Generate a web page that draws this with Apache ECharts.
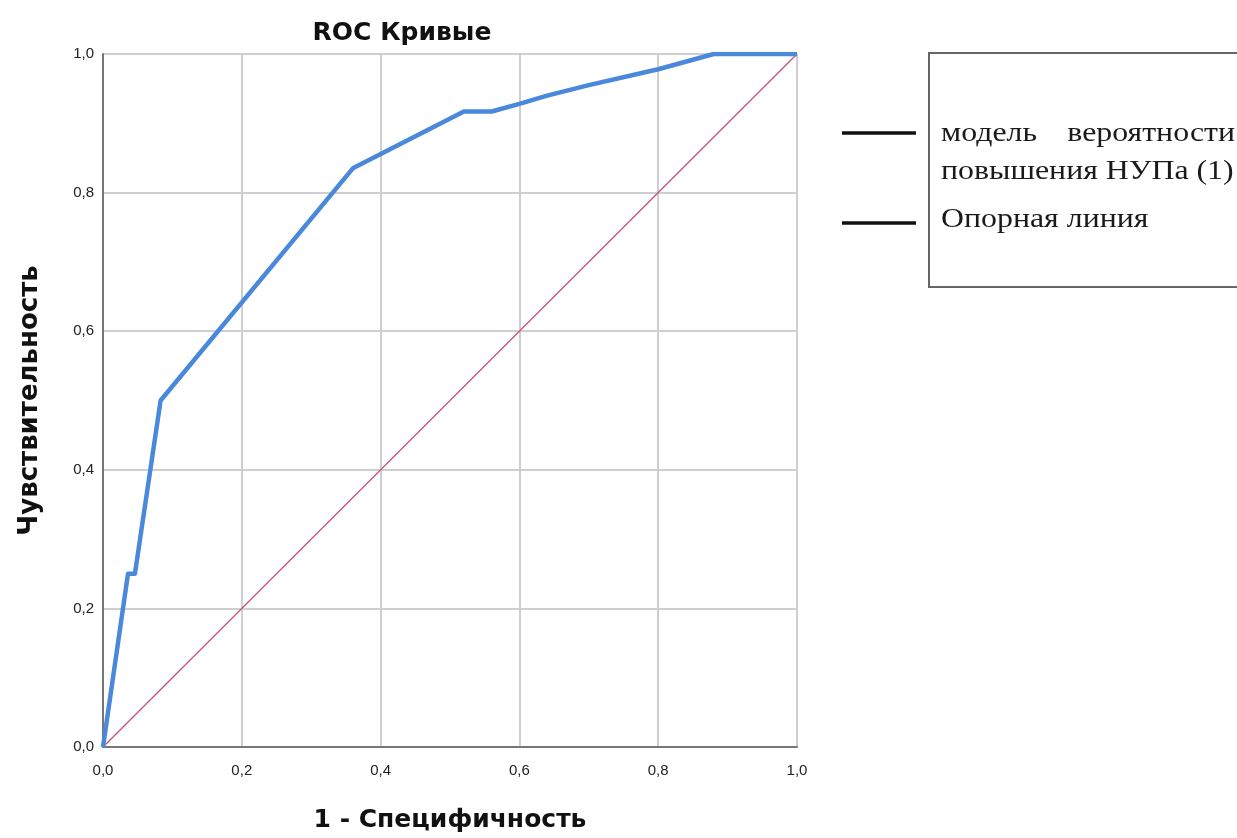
<!DOCTYPE html>
<html>
<head>
<meta charset="utf-8">
<script src="https://cdn.jsdelivr.net/npm/echarts@6/dist/echarts.min.js"></script>
<style>
html,body{margin:0;padding:0;background:#fff;}
#chart{width:1237px;height:838px;}
</style>
</head>
<body>
<div id="chart"></div>
<script>
// ROC curve points: [1 - specificity, sensitivity]
const rocX = [0, 0.036, 0.046, 0.083, 0.36, 0.52, 0.56, 0.60, 0.64, 0.70, 0.80, 0.88, 1.0];
const rocY = [0, 0.25, 0.25, 0.50, 0.835, 0.917, 0.917, 0.928, 0.940, 0.955, 0.978, 1.0, 1.0];
const refX = [0, 1];
const refY = [0, 1];
const tickValues = [0, 0.2, 0.4, 0.6, 0.8, 1.0];
const titleText = 'ROC Кривые';
const xName = '1 - Специфичность';
const yName = 'Чувствительность';
const legendNames = ['модель вероятности', 'повышения НУПа (1)', 'Опорная линия'];

const fmt = v => v.toFixed(1).replace('.', ',');
const zip = (a, b) => a.map((v, i) => [v, b[i]]);

const chart = echarts.init(document.getElementById('chart'));
const sans = '"Liberation Sans", Arial, sans-serif';
const wide = '"DejaVu Sans", "Liberation Sans", sans-serif';
const serif = '"Liberation Serif", "Times New Roman", serif';
const legendFont = '27px ' + serif;
const sx = 1.18;

chart.setOption({
  backgroundColor: '#ffffff',
  animation: false,
  title: {
    text: titleText,
    left: 397, top: 16, textAlign: 'center',
    textStyle: {fontFamily: wide, fontWeight: 'bold', fontSize: 25, color: '#111'}
  },
  grid: {left: 103, right: 440, top: 54, bottom: 91},
  xAxis: {
    type: 'value', min: 0, max: 1, interval: 0.2,
    name: xName, nameLocation: 'middle', nameGap: 61,
    nameTextStyle: {fontFamily: wide, fontWeight: 'bold', fontSize: 25, color: '#111'},
    axisLine: {show: true, onZero: false, lineStyle: {color: '#777', width: 2}},
    axisTick: {show: false},
    axisLabel: {formatter: fmt, fontFamily: sans, fontSize: 15, color: '#222', margin: 16},
    splitLine: {show: true, lineStyle: {color: '#cfcfcf', width: 2}}
  },
  yAxis: {
    type: 'value', min: 0, max: 1, interval: 0.2,
    name: yName, nameLocation: 'middle', nameGap: 60,
    nameTextStyle: {fontFamily: wide, fontWeight: 'bold', fontSize: 26, color: '#111'},
    axisLine: {show: true, onZero: false, lineStyle: {color: '#777', width: 2}},
    axisTick: {show: false},
    axisLabel: {formatter: fmt, fontFamily: sans, fontSize: 15, color: '#222', margin: 9},
    splitLine: {show: true, lineStyle: {color: '#cfcfcf', width: 2}}
  },
  series: [
    {
      name: legendNames[2], type: 'line', data: zip(refX, refY),
      showSymbol: false, symbol: 'none',
      lineStyle: {color: '#c2577a', width: 1.3}, z: 3
    },
    {
      name: legendNames[0], type: 'line', data: zip(rocX, rocY),
      showSymbol: false, symbol: 'none',
      lineStyle: {color: '#4a88dc', width: 4.5, join: 'round'}, z: 4
    }
  ],
  graphic: [
    {type: 'rect', shape: {x: 929, y: 53, width: 320, height: 234},
     style: {fill: '#fff', stroke: '#666', lineWidth: 2}},
    {type: 'line', shape: {x1: 842, y1: 133, x2: 916, y2: 133}, style: {stroke: '#111', lineWidth: 3.5}},
    {type: 'line', shape: {x1: 842, y1: 223, x2: 916, y2: 223}, style: {stroke: '#111', lineWidth: 3.5}},
    {type: 'text', x: 941, y: 134, scaleX: sx, style: {text: 'модель', font: legendFont, fill: '#1a1a1a', textVerticalAlign: 'middle'}},
    {type: 'text', x: 1235, y: 134, scaleX: sx, style: {text: 'вероятности', font: legendFont, fill: '#1a1a1a', textAlign: 'right', textVerticalAlign: 'middle'}},
    {type: 'text', x: 941, y: 172, scaleX: sx, style: {text: legendNames[1], font: legendFont, fill: '#1a1a1a', textVerticalAlign: 'middle'}},
    {type: 'text', x: 941, y: 220, scaleX: sx, style: {text: legendNames[2], font: legendFont, fill: '#1a1a1a', textVerticalAlign: 'middle'}}
  ]
});
</script>
</body>
</html>
